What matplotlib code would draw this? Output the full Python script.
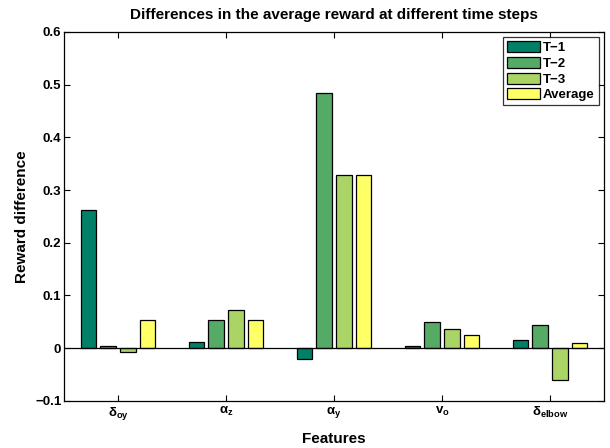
#!/usr/bin/env python3
"""Grouped bar chart of reward differences per feature and time step."""

import matplotlib

matplotlib.use("Agg")
import matplotlib.pyplot as plt
import numpy as np

plt.rcParams["font.family"] = ["Liberation Sans", "DejaVu Sans"]
plt.rcParams["font.weight"] = "bold"
plt.rcParams["mathtext.fontset"] = "custom"
plt.rcParams["mathtext.rm"] = "Liberation Sans:bold"
plt.rcParams["mathtext.it"] = "Liberation Sans:bold"
plt.rcParams["mathtext.bf"] = "Liberation Sans:bold"
plt.rcParams["mathtext.default"] = "bf"

features = [r"$\delta_{oy}$", r"$\alpha_{z}$", r"$\alpha_{y}$", r"$v_{o}$", r"$\delta_{elbow}$"]
series_names = ["T\u22121", "T\u22122", "T\u22123", "Average"]
t1 = [0.262, 0.011, -0.021, 0.004, 0.015]
t2 = [0.004, 0.053, 0.484, 0.049, 0.043]
t3 = [-0.007, 0.072, 0.328, 0.037, -0.061]
avg = [0.053, 0.053, 0.329, 0.024, 0.009]

# summer colormap, 4 levels
colors = ["#008066", "#55AA66", "#AAD466", "#FFFF66"]

fig = plt.figure(figsize=(6.10, 4.48), dpi=100)
ax = fig.add_axes([0.105, 0.1056, 0.885, 0.823])

x = np.arange(1, len(features) + 1)
n = 4
group_width = min(0.8, n / (n + 1.5))
step = group_width / n
width = 0.8 * step
for i, (vals, name, c) in enumerate(zip([t1, t2, t3, avg], series_names, colors)):
    offs = (i - (n - 1) / 2) * step
    ax.bar(x + offs, vals, width, color=c, edgecolor="black", linewidth=0.9,
           label=name, zorder=2)

ax.axhline(0, color="black", linewidth=0.9, zorder=3)

ax.set_xlim(0.5, 5.5)
ax.set_ylim(-0.1, 0.6)
ax.set_xticks(x)
ax.set_xticklabels(features, fontsize=12.5)
ax.set_yticks(np.arange(-0.1, 0.61, 0.1))
ax.set_yticklabels(["\u22120.1", "0", "0.1", "0.2", "0.3", "0.4", "0.5", "0.6"])
ax.tick_params(direction="in", top=True, right=True, length=4, width=0.8,
               labelsize=9.5)
ax.tick_params(axis="y", pad=2)
ax.tick_params(axis="x", pad=3)
for s in ax.spines.values():
    s.set_linewidth(0.9)

ax.set_title("Differences in the average reward at different time steps",
             fontsize=11, fontweight="bold", pad=9)
ax.set_xlabel("Features", fontsize=11, fontweight="bold", labelpad=7)
ax.set_ylabel("Reward difference", fontsize=11, fontweight="bold", labelpad=4)

leg = ax.legend(loc="upper right", fontsize=9.5, frameon=True, fancybox=False,
                edgecolor="black", borderpad=0.3, labelspacing=0.2,
                handlelength=2.5, handleheight=0.9, handletextpad=0.2,
                borderaxespad=0.4)
leg.get_frame().set_linewidth(0.9)
for t in leg.get_texts():
    t.set_fontweight("bold")

fig.savefig("out.png", dpi=100)
